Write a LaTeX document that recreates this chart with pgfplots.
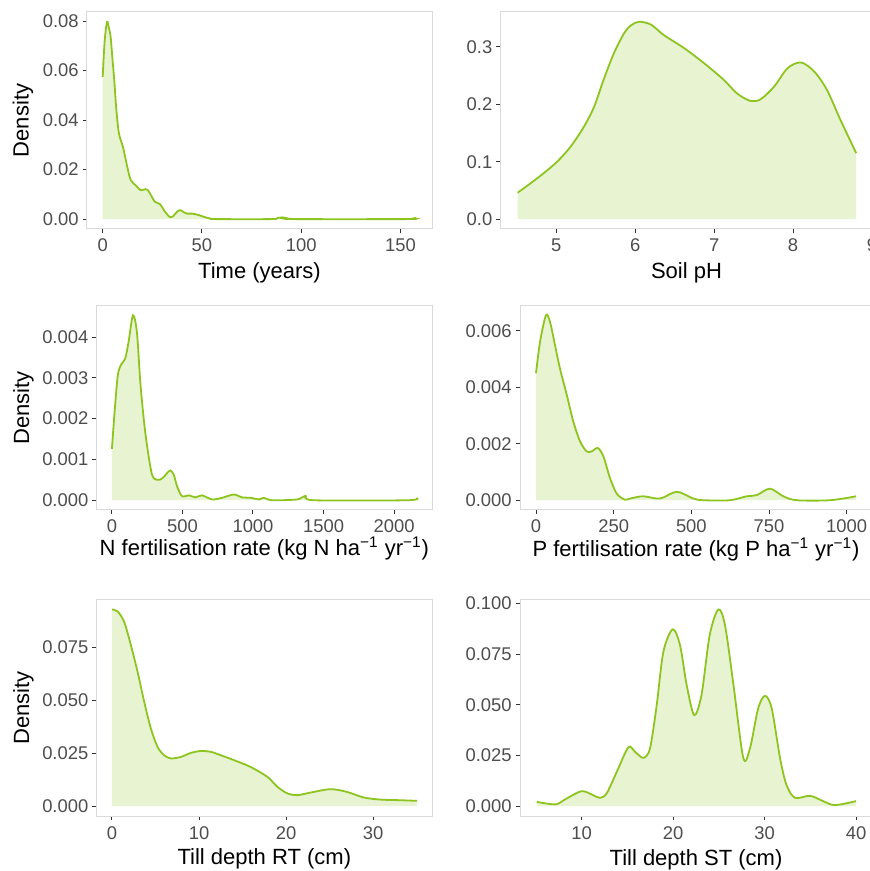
\documentclass[border=0pt]{standalone}
\usepackage{pgfplots}
\pgfplotsset{compat=1.18}
\usepackage{pgfplotstable}
\usepackage{fontspec}
\setmainfont{Liberation Sans}
\definecolor{dline}{HTML}{8DC41F}
\definecolor{bordc}{HTML}{D9D9D9}
\definecolor{tickc}{HTML}{333333}
\definecolor{tlabc}{HTML}{4D4D4D}

% density curves
\pgfplotstableread{
x y
0 0.0575
1.0 0.0720
2.2 0.0797
3.2 0.0770
4.0 0.0737
5.0 0.0640
5.8 0.0565
6.9 0.0440
8.2 0.0346
10.2 0.0292
12.4 0.0211
14.1 0.0158
16.6 0.0137
19.1 0.0117
21.5 0.0121
22.6 0.0118
23.8 0.0104
26.3 0.0070
28.8 0.0061
31.4 0.0030
33.7 0.0009
35.4 0.0011
37.5 0.0030
39.2 0.0036
41.0 0.0027
42.5 0.0022
45.1 0.0022
48.5 0.0016
51.8 0.0007
54.4 0.0002
57 0.0000
85 0.0000
88 0.0004
90.5 0.0007
93 0.0003
96 0.0000
154 0.0000
156 0.0002
158 0.0005
}\tTime

\pgfplotstableread{
x y
4.51 0.046
4.67 0.062
4.84 0.080
5.01 0.100
5.18 0.126
5.35 0.161
5.48 0.196
5.60 0.243
5.73 0.289
5.86 0.324
5.95 0.338
6.05 0.344
6.20 0.339
6.36 0.321
6.62 0.298
6.87 0.272
7.12 0.243
7.29 0.219
7.46 0.206
7.59 0.209
7.76 0.231
7.93 0.263
8.10 0.273
8.27 0.257
8.43 0.225
8.60 0.173
8.80 0.115
}\tPH

\pgfplotstableread{
x y
0 0.00126
19 0.00217
42 0.00307
66 0.00333
94 0.00347
118 0.00388
149 0.00453
177 0.00412
201 0.00290
225 0.00201
248 0.00136
284 0.00063
319 0.00050
355 0.00053
390 0.00066
414 0.00073
438 0.00063
462 0.00034
497 0.00010
545 0.00012
592 0.00007
639 0.00012
710 0.00002
781 0.00006
864 0.00014
923 0.00007
982 0.00006
1041 0.00002
1077 0.00006
1136 0.00000
1314 0.00002
1373 0.00011
1432 0.00000
2095 0.00000
2161 0.00006
}\tNfert

\pgfplotstableread{
x y
0 0.00450
13 0.00561
32 0.00655
45 0.00632
61 0.00550
77 0.00467
99 0.00373
120 0.00279
142 0.00208
163 0.00173
179 0.00173
199 0.00185
217 0.00155
238 0.00079
260 0.00023
286 0.00002
303 0.00006
345 0.00014
399 0.00006
453 0.00030
506 0.00006
539 0.00000
624 0.00000
678 0.00014
710 0.00018
753 0.00041
796 0.00014
839 0.00000
946 0.00000
1030 0.00014
}\tPfert

\pgfplotstableread{
x y
0 0.0927
0.65 0.0918
1.41 0.0868
2.18 0.0758
2.95 0.0632
3.71 0.0491
4.47 0.0366
5.24 0.0279
6.0 0.0240
6.77 0.0225
7.91 0.0232
9.06 0.0251
10.2 0.0260
11.35 0.0256
12.5 0.0240
14.0 0.0217
15.9 0.0185
17.85 0.0138
19.0 0.0091
20.15 0.0060
21.3 0.0052
22.8 0.0064
25.1 0.0080
27.0 0.0067
28.9 0.0041
30.8 0.0031
33.1 0.0028
35.05 0.0025
}\tRT

\pgfplotstableread{
x y
5.08 0.0021
6.17 0.0013
7.27 0.0010
8.36 0.0038
10.0 0.0074
11.27 0.0054
12.0 0.0041
12.73 0.0063
13.83 0.0169
15.1 0.0290
15.83 0.0268
16.74 0.0238
17.47 0.0285
18.2 0.0498
18.93 0.0761
19.95 0.0872
20.75 0.0794
21.48 0.0597
22.3 0.0449
23.1 0.0548
24.0 0.0844
24.94 0.0970
25.67 0.0893
26.6 0.0597
27.67 0.0238
28.4 0.0285
29.3 0.0482
30.05 0.0544
30.78 0.0482
31.7 0.0235
32.4 0.0104
33.33 0.0041
34.97 0.0051
36.4 0.0025
37.7 0.0005
40.0 0.0025
}\tST

\pgfplotsset{
  dens/.style={
    scale only axis,
    anchor=south west,
    scaled ticks=false,
    axis line style={draw=bordc, line width=0.5pt},
    tick align=outside,
    tick pos=left,
    major tick length=2.2pt,
    tick style={draw=tickc, line width=0.5pt},
    tick label style={font=\fontsize{9.2}{10}\selectfont, text=tlabc, inner sep=0pt},
    xticklabel style={anchor=base, yshift=-9.3pt},
    yticklabel style={anchor=east, xshift=-1.8pt},
    label style={font=\fontsize{11}{12}\selectfont, text=black},
  },
  area/.style={draw=none, fill=dline!20, smooth, tension=0.5},
  curve/.style={draw=dline, line width=0.9pt, smooth, tension=0.5},
}

\begin{document}
\begin{tikzpicture}
\path[use as bounding box] (0,0) rectangle (435pt,435.5pt);
\clip (0,0) rectangle (435pt,435.5pt);

% top left
\begin{axis}[dens, at={(43.5pt,321pt)}, width=172.5pt, height=108.5pt,
  xmin=-7.9, xmax=165.9, ymin=-0.004, ymax=0.0837,
  xtick={0,50,100,150}, xticklabels={0,50,100,150},
  ytick={0,0.02,0.04,0.06,0.08}, yticklabels={0.00,0.02,0.04,0.06,0.08},
  xlabel={Time (years)}, ylabel={Density},
  xlabel style={at={(axis description cs:0.5,-0.2276)}, anchor=base},
  ylabel style={at={(axis description cs:-0.1855,0.5)}, anchor=center}]
\addplot[area] table {\tTime} \closedcycle;
\addplot[curve] table {\tTime};
\end{axis}

% top right
\begin{axis}[dens, at={(250.35pt,321pt)}, width=185.8pt, height=108.5pt,
  xmin=4.296, xmax=9.004, ymin=-0.0172, ymax=0.361,
  xtick={5,6,7,8,9}, xticklabels={5,6,7,8,9},
  ytick={0,0.1,0.2,0.3}, yticklabels={0.0,0.1,0.2,0.3},
  xlabel={Soil pH},
  xlabel style={at={(axis description cs:0.5,-0.2276)}, anchor=base}]
\addplot[area] table {\tPH} \closedcycle;
\addplot[curve] table {\tPH};
\end{axis}

% middle left
\begin{axis}[dens, at={(48.35pt,180.75pt)}, width=167.65pt, height=101.75pt,
  xmin=-108, xmax=2269, ymin=-0.000227, ymax=0.00476,
  xtick={0,500,1000,1500,2000}, xticklabels={0,500,1000,1500,2000},
  ytick={0,0.001,0.002,0.003,0.004}, yticklabels={0.000,0.001,0.002,0.003,0.004},
  xlabel={N fertilisation rate (kg N ha\textsuperscript{−1} yr\textsuperscript{−1})},
  ylabel={Density},
  xlabel style={at={(axis description cs:0.5,-0.228)}, anchor=base},
  ylabel style={at={(axis description cs:-0.2188,0.5)}, anchor=center}]
\addplot[area] table {\tNfert} \closedcycle;
\addplot[curve] table {\tNfert};
\end{axis}

% middle right
\begin{axis}[dens, at={(260pt,180.75pt)}, width=176pt, height=101.75pt,
  xmin=-51.5, xmax=1081.5, ymin=-0.000328, ymax=0.00688,
  xtick={0,250,500,750,1000}, xticklabels={0,250,500,750,1000},
  ytick={0,0.002,0.004,0.006}, yticklabels={0.000,0.002,0.004,0.006},
  xlabel={P fertilisation rate (kg P ha\textsuperscript{−1} yr\textsuperscript{−1})},
  xlabel style={at={(axis description cs:0.5,-0.229)}, anchor=base}]
\addplot[area] table {\tPfert} \closedcycle;
\addplot[curve] table {\tPfert};
\end{axis}

% bottom left
\begin{axis}[dens, at={(48.35pt,27.5pt)}, width=167.65pt, height=108.25pt,
  xmin=-1.75, xmax=36.75, ymin=-0.00464, ymax=0.0974,
  xtick={0,10,20,30}, xticklabels={0,10,20,30},
  ytick={0,0.025,0.05,0.075}, yticklabels={0.000,0.025,0.050,0.075},
  xlabel={Till depth RT (cm)}, ylabel={Density},
  xlabel style={at={(axis description cs:0.5,-0.2263)}, anchor=base},
  ylabel style={at={(axis description cs:-0.2188,0.5)}, anchor=center}]
\addplot[area] table {\tRT} \closedcycle;
\addplot[curve] table {\tRT};
\end{axis}

% bottom right
\begin{axis}[dens, at={(260pt,27.5pt)}, width=176pt, height=108.25pt,
  xmin=3.25, xmax=41.75, ymin=-0.00485, ymax=0.1019,
  xtick={10,20,30,40}, xticklabels={10,20,30,40},
  ytick={0,0.025,0.05,0.075,0.1}, yticklabels={0.000,0.025,0.050,0.075,0.100},
  xlabel={Till depth ST (cm)},
  xlabel style={at={(axis description cs:0.5,-0.227)}, anchor=base}]
\addplot[area] table {\tST} \closedcycle;
\addplot[curve] table {\tST};
\end{axis}
\end{tikzpicture}
\end{document}
